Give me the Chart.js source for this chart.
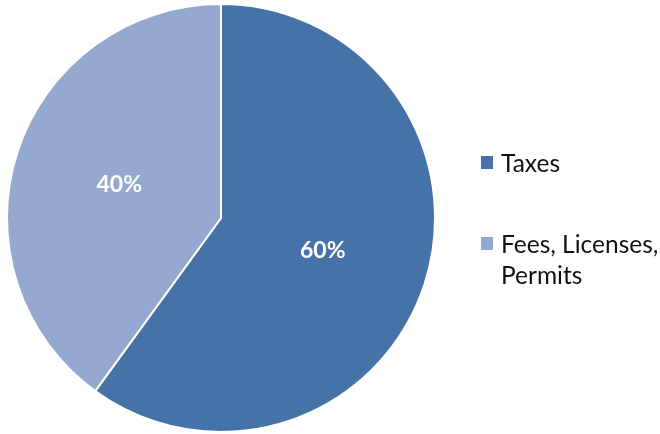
<!DOCTYPE html>
<html>
<head>
<meta charset="utf-8">
<script src="https://cdn.jsdelivr.net/npm/chart.js@4/dist/chart.umd.min.js"></script>
<style>
  html, body { margin: 0; padding: 0; background: #fff; }
  #wrap { position: relative; width: 660px; height: 434px; }
  #legend { position: absolute; left: 481px; top: 0; font-family: Lato, "Open Sans", sans-serif; font-size: 24.5px; color: #111; }
  .item { position: absolute; left: 0; width: 180px; }
  .box { position: absolute; left: 0; width: 12px; height: 13px; }
  .txt { position: absolute; left: 20px; line-height: 31px; white-space: nowrap; }
</style>
</head>
<body>
<div id="wrap">
  <canvas id="pie" width="660" height="434"></canvas>
  <div id="legend"></div>
</div>
<script>
var categories = ['Taxes', 'Fees, Licenses, Permits']
var legendLines = [['Taxes'], ['Fees, Licenses,', 'Permits']]
var shares = [60, 40]
var colors = ['#4573A7', '#95A9D0']

// labels in the middle of each slice
var sliceLabels = {
  id: 'sliceLabels',
  afterDatasetsDraw: function(chart){
    var ctx = chart.ctx
    var meta = chart.getDatasetMeta(0)
    ctx.save()
    ctx.fillStyle = '#fff'
    ctx.font = 'bold 23px Lato, "Open Sans", sans-serif'
    ctx.textAlign = 'center'
    ctx.textBaseline = 'middle'
    meta.data.forEach(function(arc, i){
      var p = arc.getCenterPoint()
      ctx.fillText(shares[i] + '%', p.x, p.y)
    })
    ctx.restore()
  }
}

var ctx = document.getElementById('pie').getContext('2d')
new Chart(ctx, {
  type: 'pie',
  data: {
    labels: categories,
    datasets: [{
      data: shares,
      backgroundColor: colors,
      borderColor: '#fff',
      borderWidth: 2
    }]
  },
  options: {
    responsive: false,
    animation: false,
    layout: { padding: { left: 6, right: 224, top: 3, bottom: 1 } },
    plugins: {
      legend: { display: false },
      tooltip: { enabled: false }
    }
  },
  plugins: [sliceLabels]
})

// legend on the right
var legend = document.getElementById('legend')
var tops = [156, 237]
categories.forEach(function(c, i){
  var item = document.createElement('div')
  item.className = 'item'
  item.style.top = tops[i] + 'px'
  var box = document.createElement('div')
  box.className = 'box'
  box.style.background = colors[i]
  box.style.top = '0px'
  var txt = document.createElement('div')
  txt.className = 'txt'
  txt.style.top = '-9px'
  txt.innerHTML = legendLines[i].join('<br>')
  item.appendChild(box)
  item.appendChild(txt)
  legend.appendChild(item)
})
</script>
</body>
</html>
